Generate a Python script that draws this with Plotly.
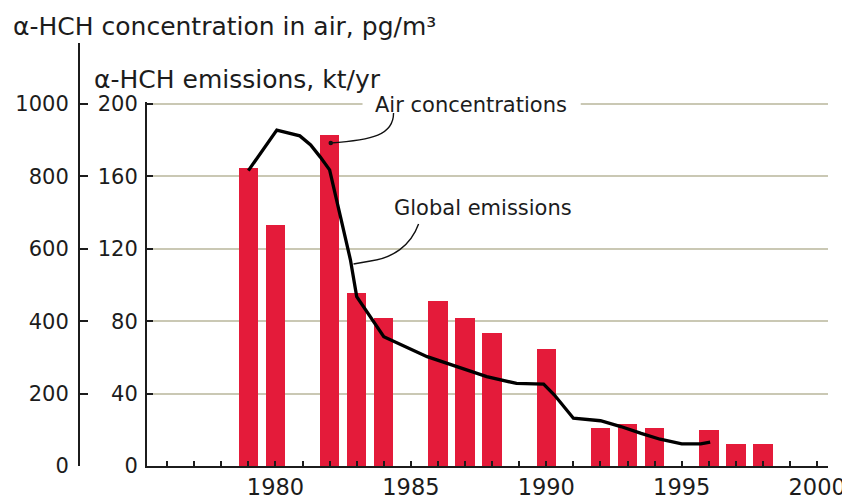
import plotly.graph_objects as go

# ---- data ----
emission_years = [1979, 1980, 1982, 1983, 1984, 1986, 1987, 1988, 1990, 1992, 1993, 1994, 1996, 1997, 1998]
emissions_kt = [164.5, 133, 182.5, 95.4, 81.4, 91.3, 81.4, 73.6, 64.5, 20.8, 23.0, 20.8, 19.9, 12.0, 12.0]

air_years = [1979.0, 1980.05, 1980.9, 1981.3, 1981.65, 1982.0, 1982.4, 1982.77, 1983.0, 1984.0,
             1985.6, 1986.35, 1987.8, 1988.9, 1989.9, 1990.3, 1991.0, 1992.0, 1992.75, 1993.5,
             1994.2, 1995.0, 1995.7, 1996.05]
air_pg = [816, 928, 912, 887, 854, 818, 689, 569, 468, 357,
          302, 284, 247, 228, 226, 196, 132, 125, 109, 90,
          74, 61, 61, 66]

x_tick_years = list(range(1976, 2001))
x_tick_text = [str(y) if y % 5 == 0 else "" for y in x_tick_years]
kt_ticks = [0, 40, 80, 120, 160, 200]
pg_ticks = [0, 200, 400, 600, 800, 1000]

title_conc = "α-HCH concentration in air, pg/m³"
title_emis = "α-HCH emissions, kt/yr"
label_air = "Air concentrations"
label_glob = "Global emissions"

# ---- layout geometry ----
# the page body adds an 8px margin, so the figure is 8px smaller and
# reference pixel positions are shifted by OFF
OFF = 8
W, H = 850 - OFF, 501 - OFF
REF_LEFT, REF_RIGHT, REF_TOP_AX, REF_BOTTOM = 147, 827.7, 43, 466
REF_OUTER = 79
PX_PER_KT = 1.81
ml = 0
mr = W - (REF_RIGHT - OFF)
mt = REF_TOP_AX - OFF
mb = H - (REF_BOTTOM - OFF)
pw = W - ml - mr
ph = H - mt - mb

KT_MAX = 201.0
kt_dom_top = KT_MAX * PX_PER_KT / ph
pg_max = (ph / PX_PER_KT) * 5.0  # 1 kt-pixel scale -> 5 pg/m3 per kt

FONT = "DejaVu Sans"
TXT = "#1c1c1c"
BAR = "#E41B3A"
GRID = "#cac8b4"


def px_x(rx):  # reference pixel x -> paper x
    return (rx - OFF - ml) / pw


def px_y(ry):  # reference pixel y -> paper y
    return (REF_BOTTOM - ry) / ph


def yr(rx):  # reference pixel x -> year
    return 1980 + (rx - 275) / 27.06


def kt(ry):  # reference pixel y -> kt
    return (REF_BOTTOM - ry) / PX_PER_KT


fig = go.Figure()
fig.add_trace(go.Bar(x=emission_years, y=emissions_kt, width=0.72,
                     marker=dict(color=BAR, line=dict(width=0)),
                     xaxis="x", yaxis="y", showlegend=False))
fig.add_trace(go.Scatter(x=air_years, y=air_pg, mode="lines",
                         line=dict(color="#000000", width=3.3),
                         xaxis="x", yaxis="y2", showlegend=False))

fig.update_layout(
    width=W, height=H,
    margin=dict(l=ml, r=mr, t=mt, b=mb, pad=0),
    paper_bgcolor="white", plot_bgcolor="rgba(0,0,0,0)",
    font=dict(family=FONT, color=TXT, size=20),
    xaxis=dict(domain=[px_x(REF_LEFT), 1], range=[1975.26, 2000.4],
               tickmode="array", tickvals=x_tick_years, ticktext=x_tick_text,
               ticks="inside", ticklen=5, tickwidth=1.5, tickcolor=TXT,
               showline=True, linecolor=TXT, linewidth=2, showgrid=False,
               zeroline=False, tickfont=dict(size=22.5, family=FONT, color=TXT),
               anchor="y", automargin=False),
    yaxis=dict(domain=[0, kt_dom_top], range=[0, KT_MAX],
               tickmode="array", tickvals=kt_ticks,
               ticks="inside", ticklen=6, tickwidth=1.5, tickcolor=TXT,
               showline=True, linecolor=TXT, linewidth=2,
               showgrid=True, gridcolor=GRID, gridwidth=1.5,
               zeroline=False, tickfont=dict(size=21, family=FONT, color=TXT),
               ticklabelstandoff=3, anchor="x", automargin=False),
    yaxis2=dict(domain=[0, 1], range=[0, pg_max],
                tickmode="array", tickvals=pg_ticks,
                ticks="inside", ticklen=8, tickwidth=1.5, tickcolor=TXT,
                showline=True, linecolor=TXT, linewidth=2, showgrid=False,
                zeroline=False, tickfont=dict(size=21, family=FONT, color=TXT),
                anchor="free", position=px_x(REF_OUTER), side="left",
                ticklabelstandoff=5, automargin=False),
    bargap=0,
)

shapes = [
    dict(type="rect", xref="x", yref="y", x0=yr(362), x1=yr(580), y0=kt(110), y1=kt(99),
         fillcolor="white", line=dict(width=0), layer="above"),
    dict(type="path", xref="x", yref="y",
         path=f"M {yr(393)},{kt(113)} C {yr(393)},{kt(135)} {yr(372)},{kt(140)} {yr(330)},{kt(143)}",
         line=dict(color="#111", width=1.4), layer="above"),
    dict(type="path", xref="x", yref="y",
         path=f"M {yr(418)},{kt(224)} C {yr(410)},{kt(246)} {yr(392)},{kt(258)} {yr(370)},{kt(261)} L {yr(353)},{kt(264)}",
         line=dict(color="#111", width=1.4), layer="above"),
    dict(type="circle", xref="x", yref="y", x0=yr(328), x1=yr(332.5), y0=kt(145.3), y1=kt(140.8),
         fillcolor="#111", line=dict(width=0), layer="above"),
]
fig.update_layout(shapes=shapes)

annotations = [
    dict(text=title_conc, xref="paper", yref="paper", x=px_x(11), y=px_y(27),
         xanchor="left", yanchor="middle", showarrow=False,
         font=dict(size=25, family=FONT, color=TXT)),
    dict(text=title_emis, xref="paper", yref="paper", x=px_x(92), y=px_y(79),
         xanchor="left", yanchor="middle", showarrow=False,
         font=dict(size=25, family=FONT, color=TXT)),
    dict(text=label_air, xref="paper", yref="paper", x=px_x(471), y=px_y(105),
         xanchor="center", yanchor="middle", showarrow=False,
         font=dict(size=21, family=FONT, color=TXT)),
    dict(text=label_glob, xref="paper", yref="paper", x=px_x(483), y=px_y(208),
         xanchor="center", yanchor="middle", showarrow=False,
         font=dict(size=21, family=FONT, color=TXT)),
]
fig.update_layout(annotations=annotations)

fig.write_html("out.html")
